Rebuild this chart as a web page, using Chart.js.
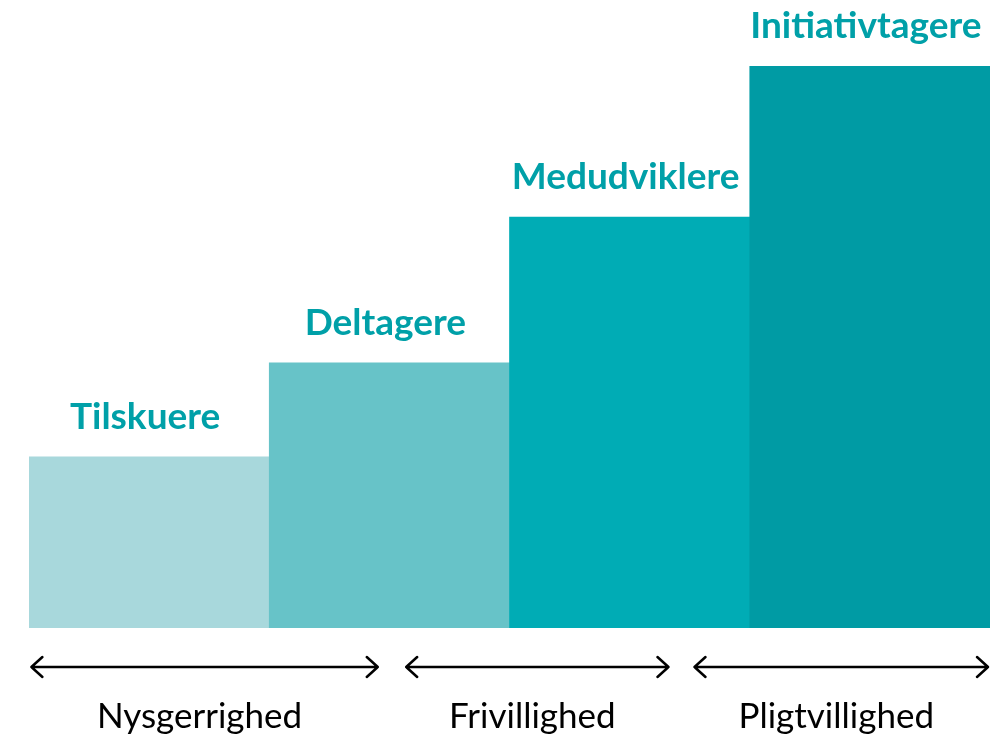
<!DOCTYPE html>
<html>
<head>
<meta charset="utf-8">
<script src="https://cdn.jsdelivr.net/npm/chart.js@4.4.1/dist/chart.umd.min.js"></script>
<style>
  html, body { margin: 0; padding: 0; background: #fff; }
  #wrap { width: 990px; height: 738px; }
</style>
</head>
<body>
<div id="wrap"><canvas id="myChart" width="990" height="738"></canvas></div>
<script>
// data
const roller = ["Tilskuere", "Deltagere", "Medudviklere", "Initiativtagere"];
const niveau = [27.7, 42.9, 66.5, 90.9];
const farver = ["#a8d8dc", "#67c3c8", "#00acb5", "#009ba4"];

// arrows under the bars, in category units (start, end)
const grupper = ["Nysgerrighed", "Frivillighed", "Pligtvillighed"];
const gruppeStart = [-0.49, 1.07, 2.27];
const gruppeSlut = [0.96, 2.17, 3.5];

const labelColor = "#00a0a8";

// ########### labels over the bars ###########
const barLabels = {
  id: "barLabels",
  afterDatasetsDraw(chart) {
    const ctx = chart.ctx;
    const meta = chart.getDatasetMeta(0);
    ctx.save();
    ctx.fillStyle = labelColor;
    ctx.font = "bold 37px Lato";
    ctx.textAlign = "center";
    ctx.textBaseline = "alphabetic";
    meta.data.forEach((bar, i) => {
      ctx.fillText(roller[i], bar.x - 4, bar.y - 28);
    });
    ctx.restore();
  }
};

// ########### double arrows + text below ###########
const pile = {
  id: "pile",
  afterDraw(chart) {
    const ctx = chart.ctx;
    const xs = chart.scales.x;
    const y0 = chart.chartArea.bottom + 39;
    ctx.save();
    ctx.strokeStyle = "#000";
    ctx.lineWidth = 2.5;
    ctx.lineCap = "round";
    ctx.lineJoin = "round";
    grupper.forEach((navn, i) => {
      const a = xs.getPixelForValue(gruppeStart[i]);
      const b = xs.getPixelForValue(gruppeSlut[i]) - 2;
      ctx.beginPath();
      ctx.moveTo(a, y0);
      ctx.lineTo(b, y0);
      ctx.moveTo(a + 11, y0 - 10);
      ctx.lineTo(a, y0);
      ctx.lineTo(a + 11, y0 + 10);
      ctx.moveTo(b - 11, y0 - 10);
      ctx.lineTo(b, y0);
      ctx.lineTo(b - 11, y0 + 10);
      ctx.stroke();
      ctx.fillStyle = "#000";
      ctx.font = "35px Lato";
      ctx.textAlign = "center";
      ctx.fillText(navn, (a + b) / 2 - 5, y0 + 61);
    });
    ctx.restore();
  }
};

const config = {
  type: "bar",
  data: {
    labels: roller,
    datasets: [{
      data: niveau,
      backgroundColor: farver,
      borderWidth: 0,
      categoryPercentage: 1.0,
      barPercentage: 1.0
    }]
  },
  options: {
    responsive: false,
    animation: false,
    layout: { padding: { left: 29, right: 0, top: 10, bottom: 110 } },
    plugins: { legend: { display: false }, tooltip: { enabled: false } },
    scales: {
      x: { display: false },
      y: { display: false, min: 0, max: 100 }
    }
  },
  plugins: [barLabels, pile]
};

new Chart(document.getElementById("myChart"), config);
</script>
</body>
</html>
